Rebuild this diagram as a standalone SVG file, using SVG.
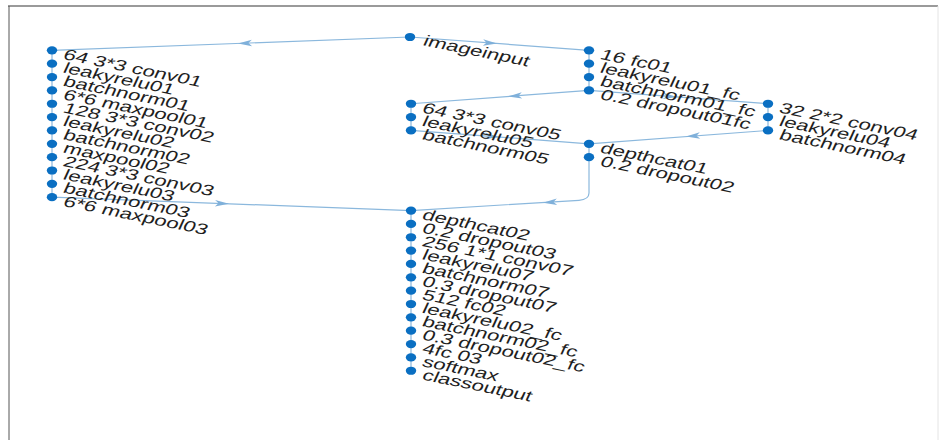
<svg xmlns="http://www.w3.org/2000/svg" xmlns:xlink="http://www.w3.org/1999/xlink" width="940" height="440" viewBox="0 0 940 440">
<style>
.n{fill:#0a6fc2}
.l{font-family:"Liberation Sans",Arial,sans-serif;font-size:15px;fill:#1e1e1e}
.e{stroke:#8bb8dd;stroke-width:1.2;fill:none}
.a{fill:#7fb0da}
</style>
<defs>
<path id="ah" d="M7,0 L-7,-3.2 L-3.5,0 L-7,3.2 Z" class="a"/>
<ellipse id="dot" cx="0" cy="0" rx="5.2" ry="4.1" class="n"/>
</defs>
<rect x="0" y="0" width="940" height="440" fill="#ffffff"/>
<line x1="8" y1="6" x2="938" y2="6" stroke="#9a9a9a" stroke-width="2"/>
<line x1="9" y1="6" x2="9" y2="440" stroke="#555" stroke-width="1"/>
<line x1="938" y1="6" x2="938" y2="440" stroke="#e4e4e4" stroke-width="1"/>

<g id="connectors">
<path class="e" d="M410,37 L52,50.35"/>
<path class="e" d="M410,37 L589,50.35"/>
<path class="e" d="M589,50.35 L589,63.7 M589,63.7 L589,77.05 M589,77.05 L589,90.4"/>
<path class="e" d="M589,90.4 L411,103.75"/>
<path class="e" d="M589,90.4 L768,103.75"/>
<path class="e" d="M411,103.75 L411,117.1 M411,117.1 L411,130.45"/>
<path class="e" d="M768,103.75 L768,117.1 M768,117.1 L768,130.45"/>
<path class="e" d="M411,130.45 L589,143.8"/>
<path class="e" d="M768,130.45 L589,143.8"/>
<path class="e" d="M589,143.8 L589,157.15"/>
<path class="e" d="M589,157.15 L589,193 Q589,199.5 579,200.3 L411,210.55"/>
<path class="e" d="M52,50.35 L52,197.2"/>
<path class="e" d="M52,197.2 L411,210.55"/>
<path class="e" d="M411,210.55 L411,370.75"/>
<use xlink:href="#ah" transform="translate(245,43.2) rotate(177.9)"/>
<use xlink:href="#ah" transform="translate(490,43) rotate(4.3)"/>
<use xlink:href="#ah" transform="translate(515,95.9) rotate(175.7)"/>
<use xlink:href="#ah" transform="translate(670,96.4) rotate(4.3)"/>
<use xlink:href="#ah" transform="translate(492,136.5) rotate(4.3)"/>
<use xlink:href="#ah" transform="translate(693,136) rotate(175.7)"/>
<use xlink:href="#ah" transform="translate(550,202.2) rotate(176.5)"/>
<use xlink:href="#ah" transform="translate(222,203.5) rotate(2.1)"/>
</g>

<g id="imageinput"><use xlink:href="#dot" x="410" y="37"/><text class="l" transform="translate(422,45) scale(1.5,1) rotate(17)">imageinput</text></g>

<g id="conv01"><use xlink:href="#dot" x="52" y="50.35"/><text class="l" transform="translate(62,58.85) scale(1.5,1) rotate(17)">64 3*3 conv01</text></g>
<g id="leakyrelu01"><use xlink:href="#dot" x="52" y="63.7"/><text class="l" transform="translate(62,72.2) scale(1.5,1) rotate(17)">leakyrelu01</text></g>
<g id="batchnorm01"><use xlink:href="#dot" x="52" y="77.05"/><text class="l" transform="translate(62,85.55) scale(1.5,1) rotate(17)">batchnorm01</text></g>
<g id="maxpool01"><use xlink:href="#dot" x="52" y="90.4"/><text class="l" transform="translate(62,98.9) scale(1.5,1) rotate(17)">6*6 maxpool01</text></g>
<g id="conv02"><use xlink:href="#dot" x="52" y="103.75"/><text class="l" transform="translate(62,112.25) scale(1.5,1) rotate(17)">128 3*3 conv02</text></g>
<g id="leakyrelu02"><use xlink:href="#dot" x="52" y="117.1"/><text class="l" transform="translate(62,125.6) scale(1.5,1) rotate(17)">leakyrelu02</text></g>
<g id="batchnorm02"><use xlink:href="#dot" x="52" y="130.45"/><text class="l" transform="translate(62,138.95) scale(1.5,1) rotate(17)">batchnorm02</text></g>
<g id="maxpool02"><use xlink:href="#dot" x="52" y="143.8"/><text class="l" transform="translate(62,152.3) scale(1.5,1) rotate(17)">maxpool02</text></g>
<g id="conv03"><use xlink:href="#dot" x="52" y="157.15"/><text class="l" transform="translate(62,165.65) scale(1.5,1) rotate(17)">224 3*3 conv03</text></g>
<g id="leakyrelu03"><use xlink:href="#dot" x="52" y="170.5"/><text class="l" transform="translate(62,179) scale(1.5,1) rotate(17)">leakyrelu03</text></g>
<g id="batchnorm03"><use xlink:href="#dot" x="52" y="183.85"/><text class="l" transform="translate(62,192.35) scale(1.5,1) rotate(17)">batchnorm03</text></g>
<g id="maxpool03"><use xlink:href="#dot" x="52" y="197.2"/><text class="l" transform="translate(62,205.7) scale(1.5,1) rotate(17)">6*6 maxpool03</text></g>

<g id="fc01"><use xlink:href="#dot" x="589" y="50.35"/><text class="l" transform="translate(599,58.85) scale(1.5,1) rotate(17)">16 fc01</text></g>
<g id="leakyrelu01_fc"><use xlink:href="#dot" x="589" y="63.7"/><text class="l" transform="translate(599,72.2) scale(1.5,1) rotate(17)">leakyrelu01_fc</text></g>
<g id="batchnorm01_fc"><use xlink:href="#dot" x="589" y="77.05"/><text class="l" transform="translate(599,85.55) scale(1.5,1) rotate(17)">batchnorm01_fc</text></g>
<g id="dropout01fc"><use xlink:href="#dot" x="589" y="90.4"/><text class="l" transform="translate(599,98.9) scale(1.5,1) rotate(17)">0.2 dropout01fc</text></g>

<g id="conv05"><use xlink:href="#dot" x="411" y="103.75"/><text class="l" transform="translate(421,112.25) scale(1.5,1) rotate(17)">64 3*3 conv05</text></g>
<g id="leakyrelu05"><use xlink:href="#dot" x="411" y="117.1"/><text class="l" transform="translate(421,125.6) scale(1.5,1) rotate(17)">leakyrelu05</text></g>
<g id="batchnorm05"><use xlink:href="#dot" x="411" y="130.45"/><text class="l" transform="translate(421,138.95) scale(1.5,1) rotate(17)">batchnorm05</text></g>

<g id="conv04"><use xlink:href="#dot" x="768" y="103.75"/><text class="l" transform="translate(778,112.25) scale(1.5,1) rotate(17)">32 2*2 conv04</text></g>
<g id="leakyrelu04"><use xlink:href="#dot" x="768" y="117.1"/><text class="l" transform="translate(778,125.6) scale(1.5,1) rotate(17)">leakyrelu04</text></g>
<g id="batchnorm04"><use xlink:href="#dot" x="768" y="130.45"/><text class="l" transform="translate(778,138.95) scale(1.5,1) rotate(17)">batchnorm04</text></g>

<g id="depthcat01"><use xlink:href="#dot" x="589" y="143.8"/><text class="l" transform="translate(599,152.3) scale(1.5,1) rotate(17)">depthcat01</text></g>
<g id="dropout02"><use xlink:href="#dot" x="589" y="157.15"/><text class="l" transform="translate(599,165.65) scale(1.5,1) rotate(17)">0.2 dropout02</text></g>

<g id="depthcat02"><use xlink:href="#dot" x="411" y="210.55"/><text class="l" transform="translate(421,219.05) scale(1.5,1) rotate(17)">depthcat02</text></g>
<g id="dropout03"><use xlink:href="#dot" x="411" y="223.9"/><text class="l" transform="translate(421,232.4) scale(1.5,1) rotate(17)">0.2 dropout03</text></g>
<g id="conv07"><use xlink:href="#dot" x="411" y="237.25"/><text class="l" transform="translate(421,245.75) scale(1.5,1) rotate(17)">256 1*1 conv07</text></g>
<g id="leakyrelu07"><use xlink:href="#dot" x="411" y="250.6"/><text class="l" transform="translate(421,259.1) scale(1.5,1) rotate(17)">leakyrelu07</text></g>
<g id="batchnorm07"><use xlink:href="#dot" x="411" y="263.95"/><text class="l" transform="translate(421,272.45) scale(1.5,1) rotate(17)">batchnorm07</text></g>
<g id="dropout07"><use xlink:href="#dot" x="411" y="277.3"/><text class="l" transform="translate(421,285.8) scale(1.5,1) rotate(17)">0.3 dropout07</text></g>
<g id="fc02"><use xlink:href="#dot" x="411" y="290.65"/><text class="l" transform="translate(421,299.15) scale(1.5,1) rotate(17)">512 fc02</text></g>
<g id="leakyrelu02_fc"><use xlink:href="#dot" x="411" y="304"/><text class="l" transform="translate(421,312.5) scale(1.5,1) rotate(17)">leakyrelu02_fc</text></g>
<g id="batchnorm02_fc"><use xlink:href="#dot" x="411" y="317.35"/><text class="l" transform="translate(421,325.85) scale(1.5,1) rotate(17)">batchnorm02_fc</text></g>
<g id="dropout02_fc"><use xlink:href="#dot" x="411" y="330.7"/><text class="l" transform="translate(421,339.2) scale(1.5,1) rotate(17)">0.3 dropout02_fc</text></g>
<g id="fc03"><use xlink:href="#dot" x="411" y="344.05"/><text class="l" transform="translate(421,352.55) scale(1.5,1) rotate(17)">4fc 03</text></g>
<g id="softmax"><use xlink:href="#dot" x="411" y="357.4"/><text class="l" transform="translate(421,365.9) scale(1.5,1) rotate(17)">softmax</text></g>
<g id="classoutput"><use xlink:href="#dot" x="411" y="370.75"/><text class="l" transform="translate(421,379.25) scale(1.5,1) rotate(17)">classoutput</text></g>
</svg>
